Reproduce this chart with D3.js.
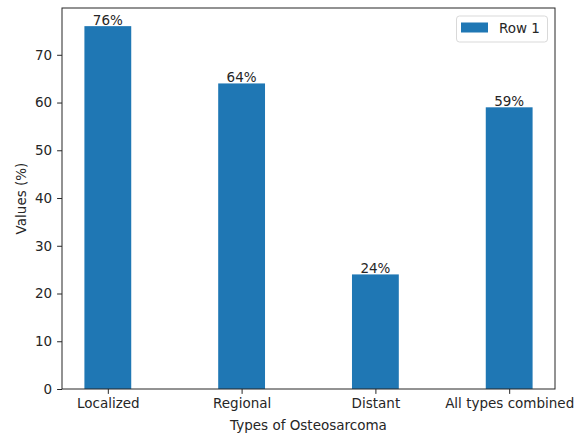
<!DOCTYPE html>
<html><head><meta charset="utf-8">
<script src="https://cdn.jsdelivr.net/npm/d3@7"></script>
<style>body{margin:0;background:#fff}svg{display:block}text{font-family:"DejaVu Sans",sans-serif;fill:#262626}</style>
</head><body><svg id="c" width="574" height="435"></svg>
<script>
const categories = ["Localized","Regional","Distant","All types combined"];
const values = [76,64,24,59];
const labels = ["76%","64%","24%","59%"];
const yTicks = [0,10,20,30,40,50,60,70];
const seriesName = "Row 1";

const svg = d3.select("#c");
const L=62,R=555,T=8,B=389;
const n=categories.length, bw=0.35;
const x = d3.scaleLinear().domain([-bw/2-0.05*(n-1+bw), n-1+bw/2+0.05*(n-1+bw)]).range([L,R]);
const y = d3.scaleLinear().domain([0, d3.max(values)*1.05]).range([B,T]);
const color="#1f77b4";
const fs=13.5;

svg.selectAll("rect.bar").data(values).join("rect").attr("class","bar")
  .attr("x",(d,i)=>x(i-bw/2)).attr("width",(d,i)=>x(i+bw/2)-x(i-bw/2))
  .attr("y",d=>y(d)).attr("height",d=>B-y(d)).attr("fill",color);

svg.selectAll("text.val").data(values).join("text").attr("class","val")
  .attr("x",(d,i)=>x(i)).attr("y",d=>y(d)-1.5).attr("text-anchor","middle")
  .attr("font-size",fs).text((d,i)=>labels[i]);

const xa = svg.append("g").attr("transform",`translate(0,${B})`)
  .call(d3.axisBottom(x).tickValues(d3.range(n)).tickFormat(i=>categories[i]).tickSize(4.9).tickPadding(4.9));
const ya = svg.append("g").attr("transform",`translate(${L},0)`)
  .call(d3.axisLeft(y).tickValues(yTicks).tickSize(4.9).tickPadding(4.9));
[xa,ya].forEach(a=>{a.select(".domain").remove();a.selectAll("text").attr("font-size",fs).attr("font-family","DejaVu Sans").attr("fill","#262626");a.selectAll("line").attr("stroke","#262626").attr("stroke-width",1);});

svg.append("rect").attr("x",L).attr("y",T).attr("width",R-L).attr("height",B-T)
  .attr("fill","none").attr("stroke","#262626").attr("stroke-width",1);

svg.append("text").attr("x",(L+R)/2).attr("y",430).attr("text-anchor","middle").attr("font-size",fs).text("Types of Osteosarcoma");
svg.append("text").attr("transform",`translate(26,${(T+B)/2}) rotate(-90)`).attr("text-anchor","middle").attr("font-size",fs).text("Values (%)");

const lg=svg.append("g");
lg.append("rect").attr("x",456.5).attr("y",16).attr("width",91).attr("height",26).attr("rx",3)
  .attr("fill","#fff").attr("fill-opacity",0.8).attr("stroke","#d9d9d9");
lg.append("rect").attr("x",461).attr("y",22.5).attr("width",27).attr("height",10).attr("fill",color);
lg.append("text").attr("x",499).attr("y",32.5).attr("font-size",fs).text(seriesName);
</script></body></html>
